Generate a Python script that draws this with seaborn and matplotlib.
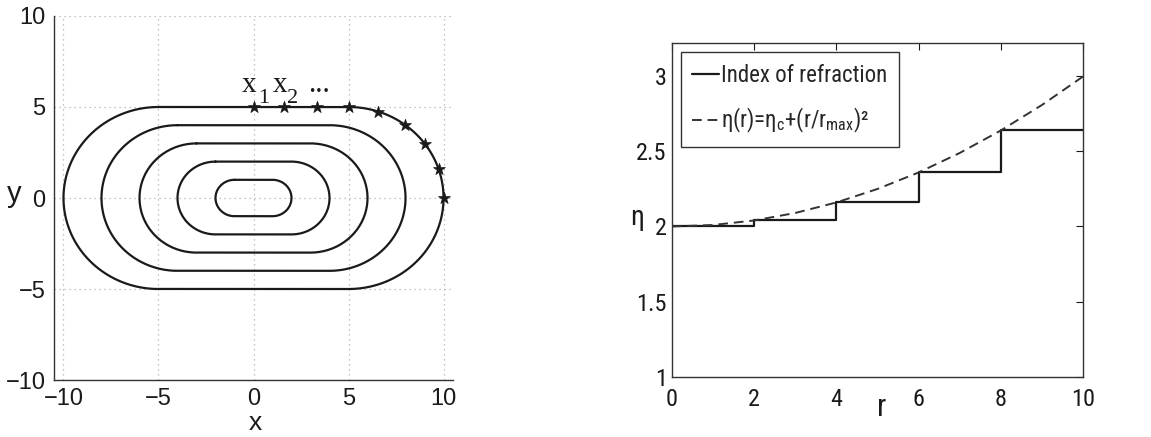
import numpy as np
import pandas as pd
import matplotlib
matplotlib.use("Agg")
import matplotlib.pyplot as plt
import seaborn as sns

# Nested racetrack contours: each has straight half-length k and end radius k
contour_radii = [1, 2, 3, 4, 5]

# Sample points x1, x2, ... placed along the outer contour
sample_x = [0.0, 1.6, 3.35, 5.0, 6.55, 7.95, 9.02, 9.74, 10.0]
sample_y = [5.0, 5.0, 5.0, 5.0, 4.74, 4.03, 2.95, 1.6, 0.0]

# Piecewise-constant index of refraction (value held from each r to the next)
step_r = [0, 2, 4, 6, 8, 10]
step_eta = [2.00, 2.04, 2.16, 2.36, 2.64, 2.64]

# Continuous profile eta(r)
profile_r = [0, 1, 2, 3, 4, 5, 6, 7, 8, 9, 10]
profile_eta = [2.00, 2.01, 2.04, 2.09, 2.16, 2.25, 2.36, 2.49, 2.64, 2.81, 3.00]

left_ticks = [-10, -5, 0, 5, 10]
right_xticks = [0, 2, 4, 6, 8, 10]
right_yticks = [1, 1.5, 2, 2.5, 3]
right_yticklabels = ["1", "1.5", "2", "2.5", "3"]

sns.set_style("white")
plt.rcParams["font.family"] = ["Liberation Sans", "DejaVu Sans"]
plt.rcParams["mathtext.fontset"] = "custom"
plt.rcParams["mathtext.rm"] = "Roboto Condensed"
plt.rcParams["mathtext.it"] = "Roboto Condensed"

INK = "#1a1a1a"
SERIF = "Liberation Serif"
NARROW = ["Roboto Condensed", "Liberation Sans Narrow", "DejaVu Sans"]


def racetrack(k, n=80):
    """Closed path: straight sides of half-length k joined by semicircles of radius k."""
    t_right = np.linspace(np.pi / 2, -np.pi / 2, n)
    t_left = np.linspace(-np.pi / 2, -3 * np.pi / 2, n)
    xs = np.concatenate([[-k], k + k * np.cos(t_right), -k + k * np.cos(t_left)])
    ys = np.concatenate([[k], k * np.sin(t_right), k * np.sin(t_left)])
    return pd.DataFrame({"x": xs, "y": ys, "k": k})


fig = plt.figure(figsize=(11.51, 4.37), dpi=100)

# ---------------- left panel: contours ----------------
ax1 = fig.add_axes([0.0469, 0.1304, 0.3467, 0.833])
for k in contour_radii:
    sns.lineplot(data=racetrack(k), x="x", y="y", sort=False, estimator=None,
                 color=INK, lw=1.6, ax=ax1)
sns.scatterplot(x=sample_x, y=sample_y, marker="*", s=80, color=INK,
                edgecolor=INK, linewidth=0.5, ax=ax1, zorder=5)
ax1.text(-0.62, 5.84, "x", fontsize=21, family=SERIF, ha="left", va="baseline", color=INK)
ax1.text(0.25, 5.22, "1", fontsize=16, family=SERIF, ha="left", va="baseline", color=INK)
ax1.text(1.0, 5.84, "x", fontsize=21, family=SERIF, ha="left", va="baseline", color=INK)
ax1.text(1.78, 5.22, "2", fontsize=16, family=SERIF, ha="left", va="baseline", color=INK)
ax1.text(2.85, 5.84, "...", fontsize=21, family=SERIF, ha="left", va="baseline", color=INK)

ax1.set_xlim(-10.5, 10.5)
ax1.set_ylim(-10, 10)
ax1.set_xticks(left_ticks)
ax1.set_yticks(left_ticks)
ax1.grid(True, color="#b0b0b0", linestyle=(0, (1, 3)), linewidth=0.9)
for s in ["top", "right"]:
    ax1.spines[s].set_visible(False)
for s in ["left", "bottom"]:
    ax1.spines[s].set_color("#333333")
    ax1.spines[s].set_linewidth(1.0)
ax1.tick_params(direction="in", length=4, labelsize=17, pad=6, colors="#1a1a1a")
ax1.set_xlabel("x", fontsize=19, color="#1a1a1a")
ax1.xaxis.set_label_coords(0.505, -0.085)
ax1.set_ylabel("y", fontsize=21, rotation=0, va="center", ha="center", color="#1a1a1a")
ax1.yaxis.set_label_coords(-0.10, 0.51)

# ---------------- right panel: refraction profile ----------------
ax2 = fig.add_axes([0.5836, 0.138, 0.3576, 0.763])
sns.lineplot(x=step_r, y=step_eta, drawstyle="steps-post", color=INK, lw=1.6,
             ax=ax2, label="Index of refraction")
sns.lineplot(x=profile_r, y=profile_eta, color="#333333", lw=1.4, linestyle=(0, (5, 3)),
             ax=ax2, label="η(r)=η$_c$+(r/r$_{max}$)²")
ax2.set_xlim(0, 10)
ax2.set_ylim(1, 3.22)
ax2.set_xticks(right_xticks)
ax2.set_yticks(right_yticks)
ax2.set_yticklabels(right_yticklabels)
for lab in ax2.get_xticklabels() + ax2.get_yticklabels():
    lab.set_family(NARROW)
ax2.tick_params(direction="in", length=5, labelsize=17.5, colors="#1a1a1a",
                top=True, right=True)
ax2.tick_params(axis="y", pad=3.5)
ax2.tick_params(axis="x", pad=8)
for s in ax2.spines.values():
    s.set_color("#333333")
    s.set_linewidth(1.0)
ax2.set_ylabel("η", fontsize=20, rotation=0, va="center", ha="center",
               family=NARROW, color="#1a1a1a")
ax2.yaxis.set_label_coords(-0.085, 0.476)
ax2.set_xlabel("r", fontsize=22, family=NARROW, color="#1a1a1a")
ax2.xaxis.set_label_coords(0.51, -0.05)
leg = ax2.legend(loc="upper left",
                 prop={"family": NARROW, "size": 16.5},
                 handlelength=1.15, handletextpad=0.1, borderpad=0.5, labelspacing=0.85,
                 fancybox=False, framealpha=1, borderaxespad=0.4)
leg.get_frame().set_edgecolor("#333333")
leg.get_frame().set_linewidth(1.0)

fig.savefig("out.png", dpi=100, facecolor="white")
